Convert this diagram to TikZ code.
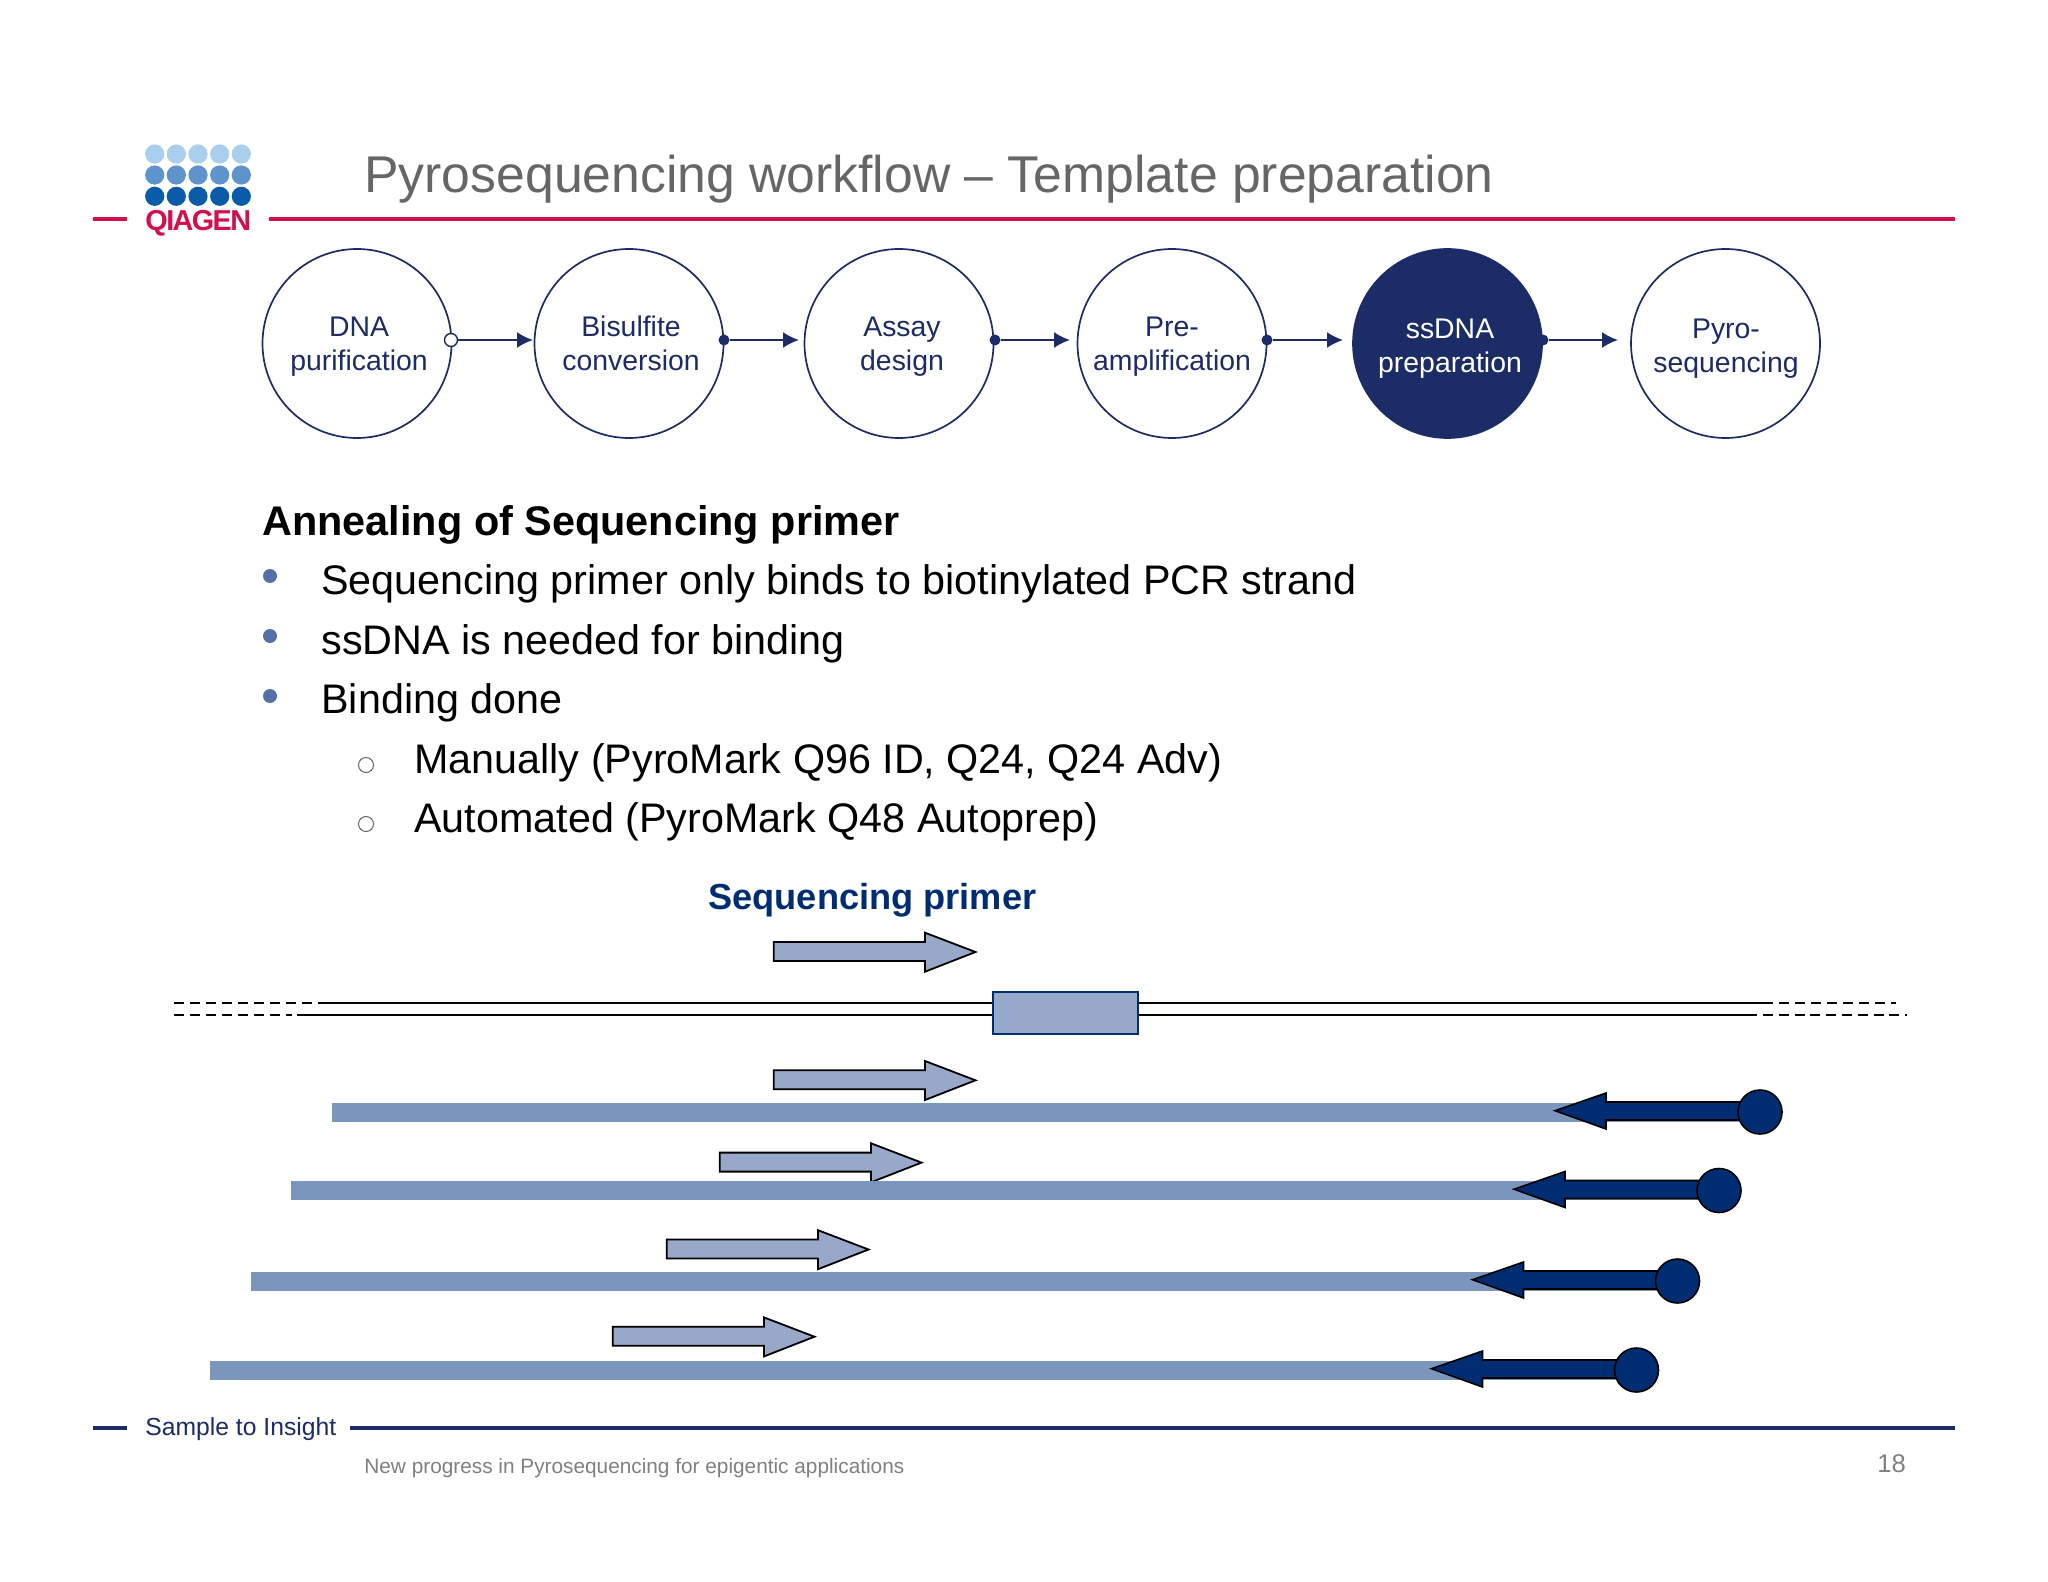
\documentclass[tikz,border=0pt]{standalone}
\usepackage{fontspec}
\usetikzlibrary{arrows.meta}
\setmainfont{Liberation Sans}
\definecolor{navy}{HTML}{1B2C66}
\definecolor{gtitle}{HTML}{666666}
\definecolor{qred}{HTML}{D2104A}
\definecolor{barblue}{HTML}{7B96BC}
\definecolor{primerblue}{HTML}{98A8C8}
\definecolor{deepblue}{HTML}{002D72}
\definecolor{bulletblue}{HTML}{5470A6}
\definecolor{dotA}{HTML}{A9CFEC}
\definecolor{dotB}{HTML}{5F93CC}
\definecolor{dotC}{HTML}{0A5CA8}
\tikzset{
  txt/.style={inner sep=0pt,anchor=base west},
  stepc/.style={circle,draw=navy,line width=.85pt,fill=white,minimum size=94.5pt,inner sep=0pt},
  steptxt/.style={inner sep=0pt,align=center,text=navy,font=\fontsize{14.2}{17}\selectfont,anchor=center},
  link/.style={draw=navy,line width=1pt,-{Latex[length=8pt,width=8pt]}},
  hub/.style={circle,fill=navy,minimum size=5.5pt,inner sep=0pt},
  body/.style={txt,font=\fontsize{20.65}{24}\selectfont,text=black},
  bul/.style={circle,fill=bulletblue,minimum size=7pt,inner sep=0pt},
  subbul/.style={circle,draw=gray!80!black,line width=.5pt,minimum size=7.5pt,inner sep=0pt},
  primer/.style={draw=black,line width=.9pt,fill=primerblue,line join=miter},
  rev/.style={draw=black,line width=.8pt,fill=deepblue},
  bead/.style={circle,draw=black,line width=.8pt,fill=deepblue,minimum size=22pt,inner sep=0pt},
  strand/.style={draw=black,line width=1pt},
  dstrand/.style={draw=black,line width=1pt,dash pattern=on 5pt off 3pt},
}
\newcommand{\primerarrow}[2]{%
  \path[primer,shift={(#1,#2)}] (773.7,942)--(925,942)--(925,932.7)--(975.5,952)--(925,971.7)--(925,961)--(773.7,961)--cycle;}
\newcommand{\template}[4]{% left x, y, bead x, name
  \fill[barblue] (#1,#2-9.5) rectangle (#3-10,#2+9.5);
  \path[rev,shift={(#3,#2)}] (-205,-1.3)--(-154,-19)--(-154,-10)--(-10,-10)--(-10,8)--(-154,8)--(-154,17)--cycle;
  \node[bead] (#4) at (#3,#2) {};}
\begin{document}
\begin{tikzpicture}[x=0.5pt,y=-0.5pt]
\useasboundingbox (0,0) rectangle (2048,1582);
\fill[white] (0,0) rectangle (2048,1582);
% logo
\foreach \x in {154.7,176.3,198,219.7,241.3}{
  \fill[dotA] (\x,154) circle (4.8pt);
  \fill[dotB] (\x,175) circle (4.8pt);
  \fill[dotC] (\x,196.3) circle (4.8pt);
}
\node[txt,text=qred,font=\fontsize{14.4}{18}\bfseries\selectfont\addfontfeature{LetterSpace=-5.5}] (logo) at (145,230.5) {QIAGEN};
\fill[qred] (93,216.7) rectangle (127,220.7);
\fill[qred] (269,216.7) rectangle (1955,220.7);
\node[txt,text=gtitle,font=\fontsize{25.85}{30}\selectfont] (title) at (364,193) {Pyrosequencing workflow – Template preparation};
% workflow
\node[stepc] (s1) at (357,343.5) {};
\node[stepc] (s2) at (629,343.5) {};
\node[stepc] (s3) at (899,343.5) {};
\node[stepc] (s4) at (1172,343.5) {};
\node[stepc,fill=navy] (s5) at (1447.5,343.5) {};
\node[stepc] (s6) at (1725.5,343.5) {};
\node[steptxt] (t1) at (359,346.3) {DNA\\purification};
\node[steptxt] (t2) at (631,343.7) {Bisulfite\\conversion};
\node[steptxt] (t3) at (902,346.3) {Assay\\design};
\node[steptxt] (t4) at (1172,346.3) {Pre-\\amplification};
\node[steptxt,text=white] (t5) at (1450,349) {ssDNA\\preparation};
\node[steptxt] (t6) at (1726,349) {Pyro-\\sequencing};
\node[hub,fill=white,draw=navy,line width=.7pt,minimum size=6.5pt] (h1) at (451,340) {};
\node[hub] (h2) at (724,340) {};
\node[hub] (h3) at (995,340) {};
\node[hub] (h4) at (1267,340) {};
\node[hub] (h5) at (1543,340) {};
\coordinate (e2) at (533,340);
\coordinate (e3) at (799,340);
\coordinate (e4) at (1070,340);
\coordinate (e5) at (1343,340);
\coordinate (e6) at (1618,340);
\draw[link] (h1) -- (e2);
\draw[link] (h2) -- (e3);
\draw[link] (h3) -- (e4);
\draw[link] (h4) -- (e5);
\draw[link] (h5) -- (e6);
% body
\node[txt,font=\fontsize{20.7}{24}\bfseries\selectfont] (head) at (262,535.3) {Annealing of Sequencing primer};
\node[bul] (b1) at (270,576) {};
\node[bul] (b2) at (270,636) {};
\node[bul] (b3) at (270,696) {};
\node[subbul] (c1) at (366,765) {};
\node[subbul] (c2) at (366,824) {};
\node[body] (l1) at (321,595) {Sequencing primer only binds to biotinylated PCR strand};
\node[body] (l2) at (321,654) {ssDNA is needed for binding};
\node[body] (l3) at (321,713.5) {Binding done};
\node[body] (l4) at (414,773) {Manually (PyroMark Q96 ID, Q24, Q24 Adv)};
\node[body] (l5) at (414,832.5) {Automated (PyroMark Q48 Autoprep)};
\node[txt,text=deepblue,font=\fontsize{18.1}{22}\bfseries\selectfont] (sp) at (708,909) {Sequencing primer};
% duplex
\coordinate (a0) at (174,1003.3);
\coordinate (a1) at (322,1003.3);
\coordinate (a2) at (1772.6,1003.3);
\coordinate (a2g) at (1779,1003.3);
\coordinate (a3) at (1896,1003.3);
\coordinate (d0) at (174,1015.3);
\coordinate (d1) at (292,1015.3);
\coordinate (d1g) at (297,1015.3);
\coordinate (d2) at (1757,1015.3);
\coordinate (d2g) at (1763,1015.3);
\coordinate (d3) at (1907,1015.3);
\draw[dstrand] (a0) -- (a1);
\draw[dstrand] (d0) -- (d1);
\draw[dstrand] (a2g) -- (a3);
\draw[dash pattern=on 5pt off 2.9pt,draw=black,line width=1pt] (d2g) -- (d3);
\draw[strand] (a1) -- (a2);
\draw[strand] (d1g) -- (d2);
\draw[draw=deepblue,line width=1pt,fill=primerblue] (992.5,992) rectangle (1138,1034);
\primerarrow{0}{0}
\primerarrow{0}{128.3}
\primerarrow{-54}{210.6}
\primerarrow{-107}{297.5}
\primerarrow{-161}{384.7}
\template{332}{1112}{1760}{beadA}
\template{291}{1190.5}{1719}{beadB}
\template{251}{1281}{1677.5}{beadC}
\template{210}{1370}{1636.5}{beadD}
% footer
\fill[navy] (93,1425.7) rectangle (127,1429.7);
\fill[navy] (350,1425.7) rectangle (1955,1429.7);
\node[txt,text=navy,font=\fontsize{12.35}{15}\selectfont] (s2i) at (145,1435) {Sample to Insight};
\node[txt,text=gray,font=\fontsize{10.4}{13}\selectfont] (foot) at (364,1473.5) {New progress in Pyrosequencing for epigentic applications};
\node[txt,text=gray,font=\fontsize{12.8}{15}\selectfont] (pg) at (1877,1472) {18};
\end{tikzpicture}
\end{document}
